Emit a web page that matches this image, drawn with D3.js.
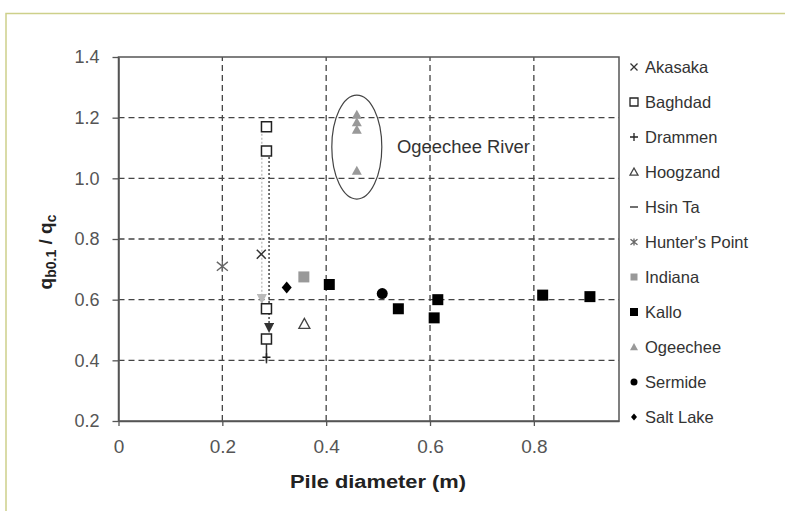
<!DOCTYPE html>
<html>
<head>
<meta charset="utf-8">
<script src="https://cdn.jsdelivr.net/npm/d3@7"></script>
<style>
  body { margin: 0; background: #fff; }
  svg { display: block; font-family: "Liberation Sans", Arial, sans-serif; }
</style>
</head>
<body>
<svg width="785" height="511"></svg>
<script>
const width = 785;
const height = 511;

// axis ticks
const xTicks = [0, 0.2, 0.4, 0.6, 0.8];
const yTicks = [0.2, 0.4, 0.6, 0.8, 1.0, 1.2, 1.4];

// legend order
const siteNames = ['Akasaka', 'Baghdad', 'Drammen', 'Hoogzand', 'Hsin Ta', "Hunter's Point",
    'Indiana', 'Kallo', 'Ogeechee', 'Sermide', 'Salt Lake'];

// data (pile diameter, qb0.1/qc)
const akasakaX = [0.275];
const akasakaY = [0.75];
const baghdadX = [0.285, 0.285, 0.285, 0.285];
const baghdadY = [1.17, 1.09, 0.57, 0.47];
const drammenX = [0.285];
const drammenY = [0.41];
const hoogzandX = [0.358];
const hoogzandY = [0.52];
const hsinTaX = [];
const hsinTaY = [];
const huntersX = [0.2];
const huntersY = [0.71];
const indianaX = [0.357];
const indianaY = [0.675];
const kalloX = [0.406, 0.539, 0.608, 0.615, 0.817, 0.908];
const kalloY = [0.65, 0.57, 0.54, 0.60, 0.615, 0.61];
const ogeecheeX = [0.459, 0.459, 0.459, 0.459];
const ogeecheeY = [1.21, 1.185, 1.16, 1.025];
const sermideX = [0.508];
const sermideY = [0.62];
const saltLakeX = [0.324];
const saltLakeY = [0.64];

// arrows showing change in Baghdad values
const arrowX = [0.276, 0.29];
const arrowFrom = [1.16, 1.07];
const arrowTo = [0.585, 0.49];

const margin = { left: 118.5, right: 166, top: 57, bottom: 90 };

const renderChart = () => {
    const svg = d3.select('svg');

    // outer frame
    svg.append('path')
        .attr('d', `M6,${height} V13.5 H${width}`)
        .attr('fill', 'none')
        .attr('stroke', '#cdd08a')
        .attr('stroke-width', 1.5);

    const x = d3.scaleLinear().domain([0, 0.964]).range([margin.left, width - margin.right]);
    const y = d3.scaleLinear().domain([0.2, 1.4]).range([height - margin.bottom, margin.top]);

    const g = svg.append('g');

    // grid
    g.selectAll('.vgrid')
        .data(xTicks.slice(1))
        .enter().append('line')
        .attr('x1', d => x(d)).attr('x2', d => x(d))
        .attr('y1', y(0.2)).attr('y2', y(1.4))
        .attr('stroke', '#444').attr('stroke-width', 1.3)
        .attr('stroke-dasharray', '6,4');

    g.selectAll('.hgrid')
        .data(yTicks.slice(1, -1))
        .enter().append('line')
        .attr('x1', x(0)).attr('x2', x(0.964))
        .attr('y1', d => y(d)).attr('y2', d => y(d))
        .attr('stroke', '#444').attr('stroke-width', 1.3)
        .attr('stroke-dasharray', '6,4');

    // plot box
    g.append('rect')
        .attr('x', x(0)).attr('y', y(1.4))
        .attr('width', x(0.964) - x(0)).attr('height', y(0.2) - y(1.4))
        .attr('fill', 'none').attr('stroke', '#555').attr('stroke-width', 1.5);

    // axes
    const xAxis = g.append('g')
        .attr('transform', `translate(0,${y(0.2)})`)
        .call(d3.axisBottom(x).tickValues(xTicks).tickFormat(d3.format('')).tickSize(5).tickSizeOuter(0));
    xAxis.select('.domain').attr('stroke', '#555').attr('stroke-width', 1.5);
    xAxis.selectAll('.tick line').attr('stroke', '#555').attr('stroke-width', 1.3);
    xAxis.selectAll('.tick text')
        .attr('y', 19)
        .attr('fill', '#555')
        .style('font-size', '19px');

    const yAxis = g.append('g')
        .attr('transform', `translate(${x(0)},0)`)
        .call(d3.axisLeft(y).tickValues(yTicks).tickFormat(d3.format('.1f')).tickSize(6).tickSizeOuter(0));
    yAxis.select('.domain').attr('stroke', '#555').attr('stroke-width', 1.5);
    yAxis.selectAll('.tick line').attr('stroke', '#555').attr('stroke-width', 1.3);
    yAxis.selectAll('.tick text')
        .attr('x', -19)
        .attr('fill', '#555')
        .style('font-size', '18px');

    // axis titles
    svg.append('text')
        .attr('x', 378)
        .attr('y', 488)
        .attr('text-anchor', 'middle')
        .attr('font-weight', 'bold')
        .attr('fill', '#222')
        .style('font-size', '18px')
        .attr('textLength', 176)
        .attr('lengthAdjust', 'spacingAndGlyphs')
        .text('Pile diameter (m)');

    const yt = svg.append('text')
        .attr('transform', `translate(52,252) rotate(-90)`)
        .attr('text-anchor', 'middle')
        .attr('font-weight', 'bold')
        .attr('fill', '#222')
        .style('font-size', '19px');
    yt.append('tspan').text('q');
    yt.append('tspan').attr('dy', 4).style('font-size', '14px').text('b0.1');
    yt.append('tspan').attr('dy', -4).text(' / q');
    yt.append('tspan').attr('dy', 4).style('font-size', '14px').text('c');

    // arrows
    const defs = svg.append('defs');
    [['arrLight', '#bbb'], ['arrDark', '#333']].forEach(([id, c]) => {
        defs.append('marker')
            .attr('id', id)
            .attr('viewBox', '0 0 10 10')
            .attr('refX', 10).attr('refY', 5)
            .attr('markerWidth', 7).attr('markerHeight', 7)
            .attr('orient', 'auto')
            .append('path').attr('d', 'M0,0 L10,5 L0,10 Z').attr('fill', c);
    });
    g.selectAll('.arrow')
        .data(arrowX)
        .enter().append('line')
        .attr('x1', d => x(d)).attr('x2', d => x(d))
        .attr('y1', (d, i) => y(arrowFrom[i]))
        .attr('y2', (d, i) => y(arrowTo[i]))
        .attr('stroke', (d, i) => i === 0 ? '#c4c4c4' : '#444')
        .attr('stroke-width', 1.5)
        .attr('stroke-dasharray', '2,2')
        .attr('marker-end', (d, i) => i === 0 ? 'url(#arrLight)' : 'url(#arrDark)');

    // Drammen stem below lowest Baghdad
    g.append('line')
        .attr('x1', x(drammenX[0])).attr('x2', x(drammenX[0]))
        .attr('y1', y(0.46)).attr('y2', y(0.39))
        .attr('stroke', '#333').attr('stroke-width', 1.5);

    // Ogeechee ellipse + annotation
    g.append('ellipse')
        .attr('cx', x(0.459)).attr('cy', y(1.103))
        .attr('rx', 25).attr('ry', 52)
        .attr('fill', 'none').attr('stroke', '#444').attr('stroke-width', 1.2);
    g.append('text')
        .attr('x', 397).attr('y', 153)
        .attr('fill', '#333')
        .style('font-size', '17.5px')
        .attr('textLength', 133)
        .attr('lengthAdjust', 'spacingAndGlyphs')
        .text('Ogeechee River');

    // marker shapes
    const shape = {
        'Akasaka': s => `M${-s},${-s}L${s},${s}M${-s},${s}L${s},${-s}`,
        'Baghdad': s => `M${-s},${-s}H${s}V${s}H${-s}Z`,
        'Drammen': s => `M${-s},0H${s}M0,${-s}V${s}`,
        'Hoogzand': s => `M0,${-s}L${s},${s * 0.8}H${-s}Z`,
        'Hsin Ta': s => `M${-s},0H${s}`,
        "Hunter's Point": s => `M${-s},${-s * 0.8}L${s},${s * 0.8}M${-s},${s * 0.8}L${s},${-s * 0.8}M0,${-s}V${s}`,
        'Indiana': s => `M${-s},${-s}H${s}V${s}H${-s}Z`,
        'Kallo': s => `M${-s},${-s}H${s}V${s}H${-s}Z`,
        'Ogeechee': s => `M0,${-s}L${s},${s * 0.8}H${-s}Z`,
        'Sermide': s => `M${-s},0A${s},${s} 0 1,0 ${s},0A${s},${s} 0 1,0 ${-s},0Z`,
        'Salt Lake': s => `M0,${-s * 1.2}L${s},0L0,${s * 1.2}L${-s},0Z`
    };
    const style = {
        'Akasaka': { fill: 'none', stroke: '#333', sw: 1.5 },
        'Baghdad': { fill: '#fff', stroke: '#222', sw: 1.5 },
        'Drammen': { fill: 'none', stroke: '#222', sw: 1.5 },
        'Hoogzand': { fill: '#fff', stroke: '#444', sw: 1.3 },
        'Hsin Ta': { fill: 'none', stroke: '#222', sw: 2.5 },
        "Hunter's Point": { fill: 'none', stroke: '#666', sw: 1.4 },
        'Indiana': { fill: '#999', stroke: 'none', sw: 0 },
        'Kallo': { fill: '#000', stroke: 'none', sw: 0 },
        'Ogeechee': { fill: '#999', stroke: 'none', sw: 0 },
        'Sermide': { fill: '#000', stroke: 'none', sw: 0 },
        'Salt Lake': { fill: '#000', stroke: 'none', sw: 0 }
    };
    const plotSize = {
        'Akasaka': 4.5, 'Baghdad': 5, 'Drammen': 4, 'Hoogzand': 5.5, 'Hsin Ta': 5,
        "Hunter's Point": 5.5, 'Indiana': 5.5, 'Kallo': 5.5, 'Ogeechee': 5, 'Sermide': 5.5, 'Salt Lake': 5
    };
    const legendSize = {
        'Akasaka': 3.5, 'Baghdad': 4, 'Drammen': 4, 'Hoogzand': 4, 'Hsin Ta': 4,
        "Hunter's Point": 3.5, 'Indiana': 3.5, 'Kallo': 4, 'Ogeechee': 4, 'Sermide': 3.5, 'Salt Lake': 3
    };

    const seriesX = [akasakaX, baghdadX, drammenX, hoogzandX, hsinTaX, huntersX,
        indianaX, kalloX, ogeecheeX, sermideX, saltLakeX];
    const seriesY = [akasakaY, baghdadY, drammenY, hoogzandY, hsinTaY, huntersY,
        indianaY, kalloY, ogeecheeY, sermideY, saltLakeY];

    siteNames.forEach((name, i) => {
        const pts = seriesX[i].map((v, j) => [v, seriesY[i][j]]);
        g.selectAll(null)
            .data(pts)
            .enter().append('path')
            .attr('transform', d => `translate(${x(d[0])},${y(d[1])})`)
            .attr('d', shape[name](plotSize[name]))
            .attr('fill', style[name].fill)
            .attr('stroke', style[name].stroke)
            .attr('stroke-width', style[name].sw);
    });

    // legend
    const legend = svg.append('g').attr('transform', 'translate(634,0)');
    const rowY = d3.scaleLinear().domain([0, siteNames.length - 1]).range([67, 417]);
    const item = legend.selectAll('.item')
        .data(siteNames)
        .enter().append('g')
        .attr('transform', (d, i) => `translate(0,${rowY(i)})`);
    item.append('path')
        .attr('d', d => shape[d](legendSize[d]))
        .attr('fill', d => style[d].fill)
        .attr('stroke', d => style[d].stroke)
        .attr('stroke-width', d => Math.min(style[d].sw, 1.3));
    item.append('text')
        .attr('x', 11)
        .attr('dy', '0.35em')
        .attr('fill', '#333')
        .style('font-size', '16.5px')
        .text(d => d);
};

document.addEventListener('DOMContentLoaded', () => {
    renderChart();
});
</script>
</body>
</html>
